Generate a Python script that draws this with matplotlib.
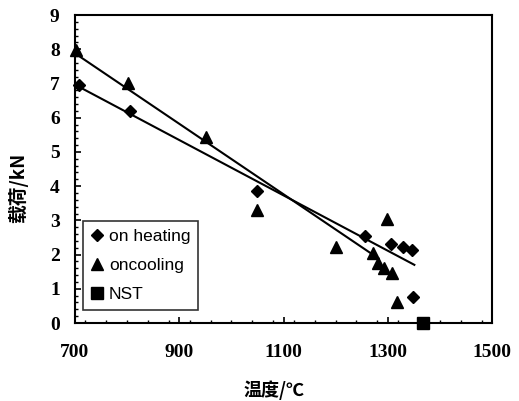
import matplotlib

matplotlib.use("Agg")

import matplotlib.pyplot as plt
from matplotlib.ticker import MultipleLocator

plt.rcParams["font.family"] = ["Liberation Serif", "Noto Sans CJK SC"]

# load (kN) measured against temperature (deg C)
heat_t = [708, 805, 1050, 1257, 1306, 1330, 1347, 1349]
heat_load = [6.95, 6.2, 3.85, 2.54, 2.31, 2.22, 2.13, 0.76]

cool_t = [702, 802, 951, 1049, 1201, 1299, 1272, 1282, 1293, 1308, 1318]
cool_load = [7.98, 7.02, 5.44, 3.3, 2.22, 3.04, 2.05, 1.75, 1.6, 1.46, 0.61]

nst_t = [1368]
nst_load = [0.0]

# fitted trend lines, end points
heat_fit_t = [708, 1351]
heat_fit_load = [6.9, 1.7]
cool_fit_t = [704, 1278]
cool_fit_load = [7.84, 1.93]

x_ticks = [700, 900, 1100, 1300, 1500]
y_ticks = list(range(10))

fig = plt.figure(figsize=(5.19, 4.01), dpi=100)
ax = fig.add_axes([0.1445, 0.1945, 0.8035, 0.768])

ax.plot(heat_fit_t, heat_fit_load, color="black", lw=1.5)
ax.plot(cool_fit_t, cool_fit_load, color="black", lw=1.5)
ax.plot(heat_t, heat_load, "D", color="black", ms=6.2, label="on heating", clip_on=False)
ax.plot(cool_t, cool_load, "^", color="black", ms=9, label="oncooling", clip_on=False)
ax.plot(nst_t, nst_load, "s", color="black", ms=9, label="NST", clip_on=False, zorder=5)

ax.set_xlim(700, 1500)
ax.set_ylim(0, 9)
ax.set_xticks(x_ticks)
ax.set_yticks(y_ticks)
ax.xaxis.set_minor_locator(MultipleLocator(40))
ax.yaxis.set_minor_locator(MultipleLocator(0.2))
ax.tick_params(which="both", direction="in", top=False, right=False, labelsize=14)
ax.tick_params(axis="x", pad=15)
ax.tick_params(axis="y", pad=11)
ax.tick_params(which="major", length=4, width=1.2)
ax.tick_params(which="minor", length=2.5, width=1)
for lbl in ax.get_xticklabels() + ax.get_yticklabels():
    lbl.set_fontweight("bold")
for s in ax.spines.values():
    s.set_linewidth(1.5)

ax.set_xlabel("温度/℃", fontsize=13, family=["Noto Sans CJK SC"], fontweight="bold")
ax.set_ylabel("载荷/kN", fontsize=13.5, family=["Noto Sans CJK SC", "DejaVu Sans"], fontweight="bold")
ax.xaxis.set_label_coords(0.477, -0.185)
ax.yaxis.set_label_coords(-0.112, 0.438)

leg = ax.legend(loc="lower left", bbox_to_anchor=(0.019, 0.042), borderaxespad=0, frameon=True,
                fancybox=False, edgecolor="black", handlelength=0.7, handletextpad=0.35,
                borderpad=0.45, labelspacing=0.8, prop={"family": "Liberation Sans", "size": 12.5})
leg.get_frame().set_linewidth(1.2)

fig.savefig("out.png", dpi=100)
